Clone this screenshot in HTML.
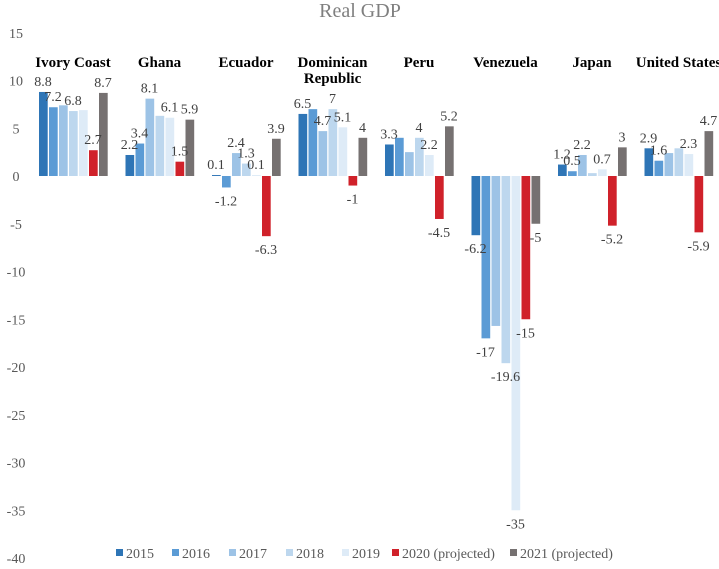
<!DOCTYPE html>
<html><head><meta charset="utf-8"><style>
body{margin:0;background:#fff;width:719px;height:564px;overflow:hidden}
svg{font-family:"Liberation Serif",serif}
</style></head><body>
<svg id="chart" width="719" height="564">
<text x="360" y="17" text-anchor="middle" font-size="20" fill="#7f7f7f">Real GDP</text>
<g id="yaxis"></g>
<g id="bars"></g>
<g id="labels"></g>
<g id="legend"></g>
</svg>
<script>
const countries = ["Ivory Coast","Ghana","Ecuador","Dominican Republic","Peru","Venezuela","Japan","United States"];
const seriesNames = ["2015","2016","2017","2018","2019","2020 (projected)","2021 (projected)"];
const v2015 = [8.8,2.2,0.1,6.5,3.3,-6.2,1.2,2.9];
const v2016 = [7.2,3.4,-1.2,7.0,4.0,-17,0.5,1.6];
const v2017 = [7.4,8.1,2.4,4.7,2.5,-15.7,2.2,2.4];
const v2018 = [6.8,6.3,1.3,7,4,-19.6,0.3,2.9];
const v2019 = [6.9,6.1,0.1,5.1,2.2,-35,0.7,2.3];
const v2020 = [2.7,1.5,-6.3,-1,-4.5,-15,-5.2,-5.9];
const v2021 = [8.7,5.9,3.9,4,5.2,-5,3,4.7];
const yTicks = [15,10,5,0,-5,-10,-15,-20,-25,-30,-35,-40];
const shown = [[1,1,0,1,0,1,1],[1,1,1,0,1,1,1],[1,1,1,1,1,1,1],[1,0,1,1,1,1,1],[1,0,0,1,1,1,1],[1,1,0,1,1,1,1],[1,1,1,0,1,1,1],[1,1,0,0,1,1,1]];
const series = [v2015,v2016,v2017,v2018,v2019,v2020,v2021];
const colors = ["#2e75b6","#5b9bd5","#9dc3e6","#bdd7ee","#deebf7","#d0212a","#767171"];
const NS="http://www.w3.org/2000/svg";
function y(v){return 176 - v*9.55;}
function gx(i){return 39 + i*86.5;}
function bx(i,s){return gx(i)+s*10;}
function mk(tag,attrs,parent){const e=document.createElementNS(NS,tag);for(const k in attrs)e.setAttribute(k,attrs[k]);parent.appendChild(e);return e;}
const ya=document.getElementById('yaxis');
yTicks.forEach(t=>{const e=mk('text',{x:16,y:y(t)+5,'text-anchor':'middle','font-size':14,fill:'#595959'},ya);


e.textContent=t;});
const bg=document.getElementById('bars'),lg=document.getElementById('labels');
countries.forEach((c,i)=>{
  const lines=c==="Dominican Republic"?["Dominican","Republic"]:[c];
  lines.forEach((ln,k)=>{const t=mk('text',{x:gx(i)+34,y:67+k*16,'text-anchor':'middle','font-size':15,'font-weight':'bold',fill:'#000'},lg);
  
  
  t.textContent=ln;});
  series.forEach((arr,s)=>{const v=arr[i];
    const r=mk('rect',{x:bx(i,s),y:Math.min(y(v),y(0)),width:8.7,height:Math.abs(y(v)-y(0)),fill:colors[s]},bg);
    
    
    if(shown[i][s]){const ty=v>=0?y(v)-6:y(v)+18;
      const t=mk('text',{x:bx(i,s)+4,y:ty,'text-anchor':'middle','font-size':14,fill:'#404040'},lg);
      
      
      t.textContent=v;}
  });
});
const legX=[116,172,229,286,342,392,510];
const leg=document.getElementById('legend');
seriesNames.forEach((n,s)=>{const g=mk('g',{},leg);
  
  
  mk('rect',{x:legX[s],y:549,width:7,height:7,fill:colors[s]},g);
  const t=mk('text',{x:legX[s]+10,y:558,'font-size':14,fill:'#595959'},g);t.textContent=n;});
</script>
</body></html>
